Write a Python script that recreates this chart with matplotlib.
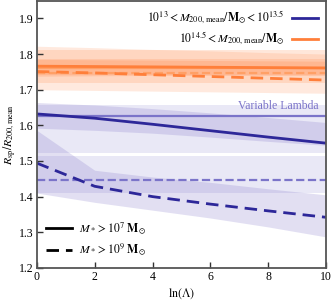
import numpy as np
import matplotlib
matplotlib.use('Agg')
import matplotlib.pyplot as plt
from matplotlib.lines import Line2D

plt.rcParams['font.family'] = ['Liberation Serif', 'DejaVu Serif']
plt.rcParams['mathtext.fontset'] = 'stix'
plt.rcParams['font.size'] = 8.5

# values
ln_lambda = [0, 2, 4, 6, 8, 10]

# low mass bin, M* > 1e7
lo_solid = [1.632, 1.620, 1.603, 1.585, 1.567, 1.550]
lo_solid_lo = [1.592, 1.586, 1.578, 1.567, 1.555, 1.544]
lo_solid_hi = [1.664, 1.657, 1.647, 1.635, 1.622, 1.608]
# low mass bin, M* > 1e9
lo_dash = [1.494, 1.429, 1.400, 1.379, 1.360, 1.342]
lo_dash_lo = [1.410, 1.384, 1.362, 1.340, 1.315, 1.287]
lo_dash_hi = [1.586, 1.474, 1.455, 1.440, 1.422, 1.405]

# high mass bin
hi_solid = [1.766, 1.765, 1.764, 1.763, 1.762, 1.761]
hi_solid_lo = [1.738, 1.739, 1.740, 1.740, 1.740, 1.740]
hi_solid_hi = [1.785, 1.784, 1.783, 1.782, 1.781, 1.780]
hi_dash = [1.751, 1.747, 1.742, 1.737, 1.732, 1.727]
hi_dash_lo = [1.700, 1.698, 1.696, 1.694, 1.692, 1.690]
hi_dash_hi = [1.822, 1.818, 1.813, 1.809, 1.804, 1.800]

# variable lambda (constant) results: line, lower, upper
var_lo_solid = (1.625, 1.521, 1.658)
var_lo_dash = (1.447, 1.410, 1.513)
var_hi_solid = (1.762, 1.742, 1.785)
var_hi_dash = (1.746, 1.718, 1.810)

purple = '#2d2799'
purple_light = '#7b74c9'
purple_band = '#7c70c8'
orange = '#ff7f3a'
orange_light = '#ffa066'
orange_band = '#ff8a4a'

fig = plt.figure(figsize=(3.32, 3.0), dpi=100)
ax = fig.add_axes([0.111, 0.107, 0.871, 0.891])

x = np.array(ln_lambda)
xx = [0, 10]

# variable lambda bands and lines
for (v, lo, hi), ls in [(var_lo_solid, '-'), (var_lo_dash, '--')]:
    ax.fill_between(xx, [lo, lo], [hi, hi], color=purple_band, alpha=0.16, lw=0)
    ax.plot(xx, [v, v], color=purple_light, ls=ls, lw=1.6)
for (v, lo, hi), ls in [(var_hi_solid, '-'), (var_hi_dash, '--')]:
    ax.fill_between(xx, [lo, lo], [hi, hi], color=orange_band, alpha=0.2, lw=0)
    ax.plot(xx, [v, v], color=orange_light, ls=ls, lw=1.6)

# varying lambda
ax.fill_between(x, lo_solid_lo, lo_solid_hi, color=purple_band, alpha=0.22, lw=0)
ax.fill_between(x, lo_dash_lo, lo_dash_hi, color=purple_band, alpha=0.22, lw=0)
ax.fill_between(x, hi_solid_lo, hi_solid_hi, color=orange_band, alpha=0.24, lw=0)
ax.fill_between(x, hi_dash_lo, hi_dash_hi, color=orange_band, alpha=0.18, lw=0)

ax.plot(x, lo_solid, color=purple, lw=2)
ax.plot(x, lo_dash, color=purple, lw=2, ls='--', dashes=(4.5, 2.5))
ax.plot(x, hi_solid, color=orange, lw=2)
ax.plot(x, hi_dash, color=orange, lw=2, ls='--', dashes=(4.5, 2.5))

ax.text(9.75, 1.638, 'Variable Lambda', color=purple_light, ha='right', va='bottom', fontsize=8.5)

ax.set_xlim(0, 10)
ax.set_ylim(1.2, 1.95)
ax.set_xticks([0, 2, 4, 6, 8, 10])
ax.set_yticks([1.2, 1.3, 1.4, 1.5, 1.6, 1.7, 1.8, 1.9])
ax.tick_params(direction='in', length=4, width=1, color='#333333', pad=2.5)
ax.set_xlabel(r'$\ln(\Lambda)$', labelpad=2)
ax.set_ylabel(r'$R_{\rm sp}/R_{\rm 200,mean}$')
ax.yaxis.set_label_coords(-0.065, 0.5)
for s in ax.spines.values():
    s.set_color('#555555')
    s.set_linewidth(1.3)

# legends
mass_handles = [Line2D([], [], color=purple, lw=2), Line2D([], [], color=orange, lw=2)]
mass_labels = [r'$10^{13} < M_{\rm 200,\,mean}/\mathbf{M}_{\odot} < 10^{13.5}$',
               r'$10^{14.5} < M_{\rm 200,\,mean}/\mathbf{M}_{\odot}$']
leg1 = ax.legend(mass_handles, mass_labels, loc='upper right', frameon=False,
                 markerfirst=False, handlelength=2.2, fontsize=8.5,
                 borderaxespad=0.3, labelspacing=0.3, handletextpad=0.6)
ax.add_artist(leg1)

star_handles = [Line2D([], [], color='k', lw=2),
                Line2D([], [], color='k', lw=2, ls='--', dashes=(4.5, 2.5))]
star_labels = [r'$M_* > 10^7\ \mathbf{M}_{\odot}$', r'$M_* > 10^9\ \mathbf{M}_{\odot}$']
ax.legend(star_handles, star_labels, loc='lower left', frameon=False,
          handlelength=2.2, fontsize=8.5, borderaxespad=0.4, labelspacing=0.45,
          handletextpad=0.6)

fig.savefig('out.png', dpi=100)
